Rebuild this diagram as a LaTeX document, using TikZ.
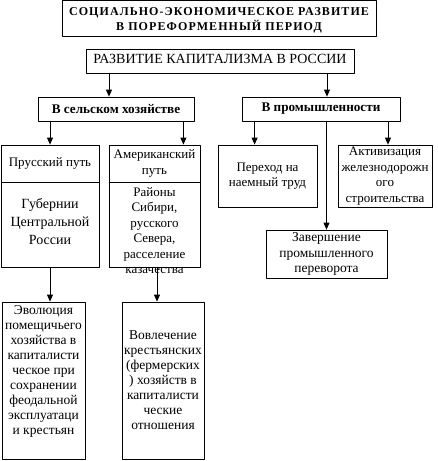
\documentclass[tikz,border=0pt]{standalone}
\usepackage{fontspec}
\setmainfont{Liberation Serif}
\usetikzlibrary{arrows.meta}

\tikzset{
  box/.style={draw, line width=0.8pt, rectangle, inner sep=0pt, align=center,
    font=\fontsize{13}{15.5}\selectfont},
  txt/.style={inner sep=0pt, align=center, font=\fontsize{13}{15.5}\selectfont},
  arr/.style={-{Triangle[length=7pt,width=6pt]}, line width=0.8pt}
}

\begin{document}
\begin{tikzpicture}[x=1pt, y=-1pt, line join = round, line cap = round]

\useasboundingbox (0,0) rectangle (438,461);

% headings
\node [box, minimum width=314pt, minimum height=36pt] (0) at (219,18.5) {};
\node [txt, font=\bfseries\fontsize{12}{15}\selectfont\addfontfeature{LetterSpace=9}] at ([yshift=-1.5pt]0.center) {СОЦИАЛЬНО-ЭКОНОМИЧЕСКОЕ РАЗВИТИЕ\\В ПОРЕФОРМЕННЫЙ ПЕРИОД};
\node [box, minimum width=268pt, minimum height=24pt, text height=10pt, text depth=6pt, font=\fontsize{14}{16}\selectfont] (1) at (220,61) {РАЗВИТИЕ КАПИТАЛИЗМА В РОССИИ};
\node [box, minimum width=156pt, minimum height=24pt, font=\bfseries\fontsize{13.2}{15}\selectfont] (2) at (116,109) {В сельском хозяйстве};
\node [box, minimum width=158pt, minimum height=24pt, font=\bfseries\fontsize{13.2}{15}\selectfont] (3) at (321,109) {В промышленности};

% agriculture
\node [box, minimum width=98pt, minimum height=37pt] (4) at (50,163.5) {Прусский путь};
\node [box, minimum width=98pt, minimum height=85pt] (5) at (50,224.5) {};
\node [txt, font=\fontsize{14}{18}\selectfont] at ([yshift=3pt]5.center) {Губернии\\Центральной\\России};
\node [box, minimum width=91pt, minimum height=37pt] (6) at (154.5,163.5) {Американский\\путь};
\node [box, minimum width=91pt, minimum height=85pt] (7) at (154.5,224.5) {};
\node [txt] at ([yshift=-6pt]7.center) {Районы\\Сибири,\\русского\\Севера,\\расселение\\казачества};
\node [box, minimum width=83pt, minimum height=157pt] (11) at (43.5,380.5) {};
\node [txt, anchor=north, font=\fontsize{13.5}{15}\selectfont] at ([yshift=-4pt]11.north) {Эволюция\\помещичьего\\хозяйства в\\капиталисти\\ческое при\\сохранении\\феодальной\\эксплуатаци\\и крестьян};
\node [box, minimum width=82pt, minimum height=157pt, font=\fontsize{13.5}{15}\selectfont] (12) at (163,380.5) {Вовлечение\\крестьянских\\(фермерских\\) хозяйств в\\капиталисти\\ческие\\отношения};

% industry
\node [box, minimum width=99pt, minimum height=62pt] (8) at (267.5,176) {Переход на\\наемный труд};
\node [box, minimum width=94pt, minimum height=62pt] (9) at (385,176) {Активизация\\железнодорожн\\ого\\строительства};
\node [box, minimum width=121pt, minimum height=48pt, font=\fontsize{13.5}{15.5}\selectfont] (10) at (326.5,254) {Завершение\\промышленного\\переворота};

\begin{scope}[arr]
  \draw ([xshift=-7pt]2.north |- 1.south) -- ([xshift=-7pt]2.north);
  \draw ([xshift=6pt]3.north |- 1.south) -- ([xshift=6pt]3.north);
  \draw (4.north |- 2.south) -- (4.north);
  \draw ([xshift=-11pt]2.south east) -- ([xshift=-11pt]2.south east |- 6.north);
  \draw ([xshift=13pt]3.south west) -- ([xshift=13pt]3.south west |- 8.north);
  \draw (10.north |- 3.south) -- (10.north);
  \draw ([xshift=3pt]9.north |- 3.south) -- ([xshift=3pt]9.north);
  \draw ([xshift=6.5pt]11.north |- 5.south) -- ([xshift=6.5pt]11.north);
  \draw ([xshift=2.5pt]7.south) -- ([xshift=2.5pt]7.south |- 12.north);
\end{scope}
\end{tikzpicture}
\end{document}
